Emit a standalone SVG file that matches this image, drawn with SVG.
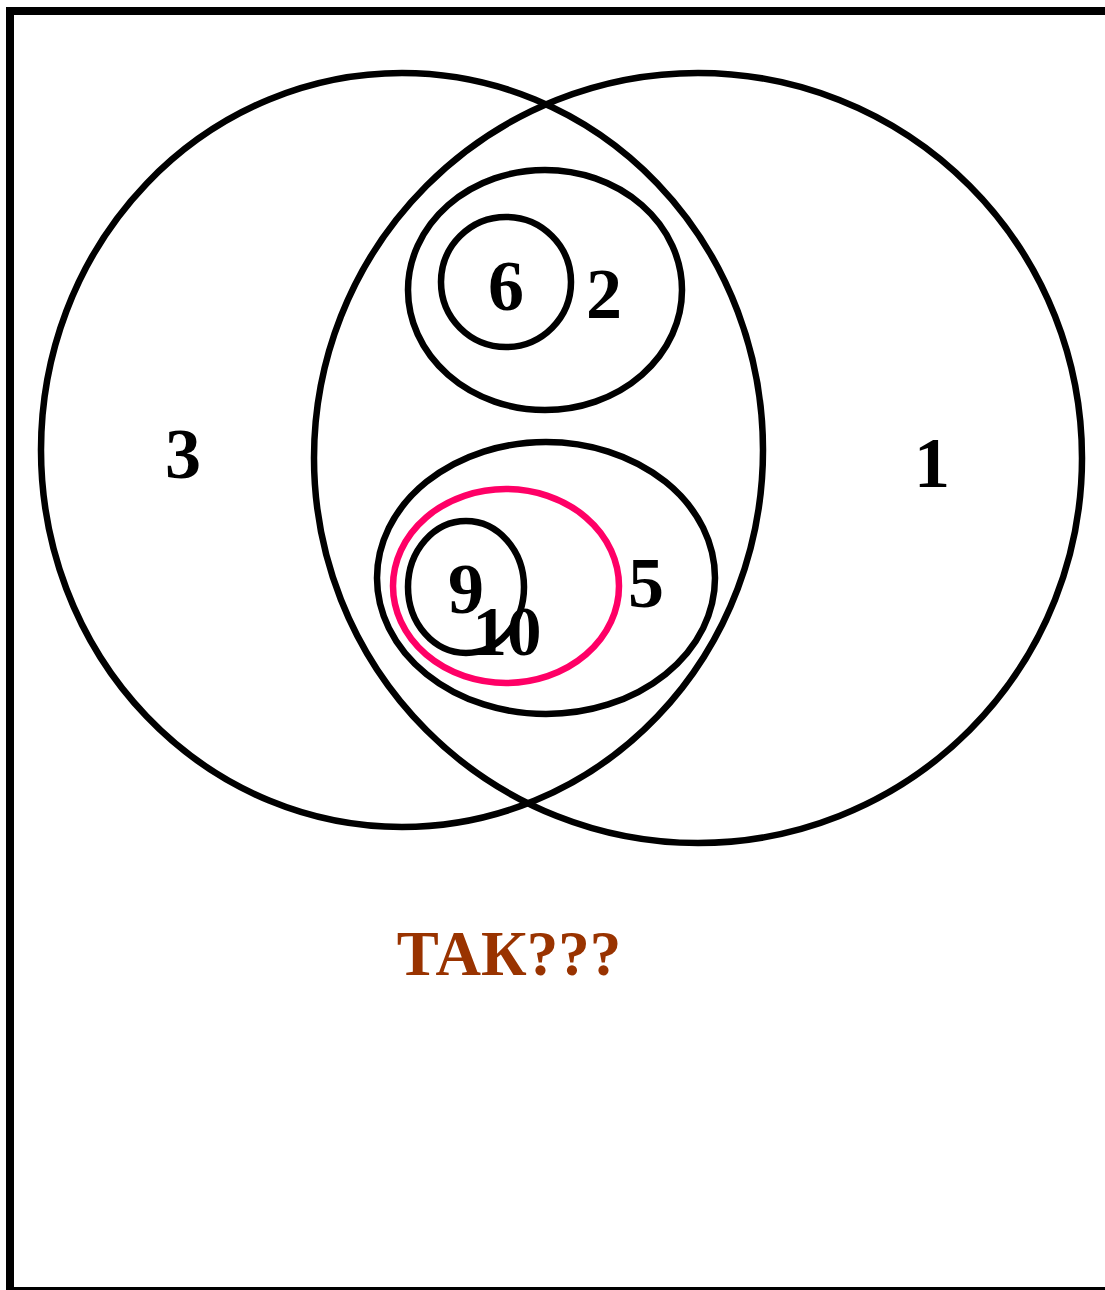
<svg xmlns="http://www.w3.org/2000/svg" width="1105" height="1290" viewBox="0 0 1105 1290">
<style>
.s{fill:none;stroke:#000;stroke-width:6.5}
.p{fill:none;stroke:#FF0066;stroke-width:6.5}
.t{font-family:"Liberation Serif",serif;font-weight:bold;font-size:72px;fill:#000;text-anchor:middle}
.k{font-family:"Liberation Serif",serif;font-weight:bold;font-size:63px;fill:#993300;text-anchor:middle}
</style>
<rect x="10" y="11" width="1110" height="1280" fill="#fff" stroke="#000" stroke-width="8"/>
<g id="set3"><ellipse class="s" cx="402" cy="450" rx="361" ry="377"/><text class="t" x="183" y="478">3</text></g>
<g id="set1"><ellipse class="s" cx="698" cy="458" rx="384" ry="385"/><text class="t" x="932" y="487">1</text></g>
<g id="set2"><ellipse class="s" cx="545" cy="290" rx="137" ry="120"/><text class="t" x="604" y="318">2</text></g>
<g id="set6"><ellipse class="s" cx="506" cy="282" rx="65" ry="65"/><text class="t" x="506" y="310">6</text></g>
<g id="set5"><ellipse class="s" cx="546" cy="578" rx="169" ry="136"/><text class="t" x="646" y="607">5</text></g>
<g id="set10"><ellipse class="p" cx="506" cy="586" rx="113" ry="97"/></g>
<g id="set9"><ellipse class="s" cx="466" cy="587" rx="58" ry="66"/><text class="t" x="466" y="613">9</text></g>
<g id="label10"><text class="t" x="507" y="655" style="font-size:69px">10</text></g>
<g id="connectors"></g>
<text class="k" x="509" y="975">ТАК???</text>
</svg>
